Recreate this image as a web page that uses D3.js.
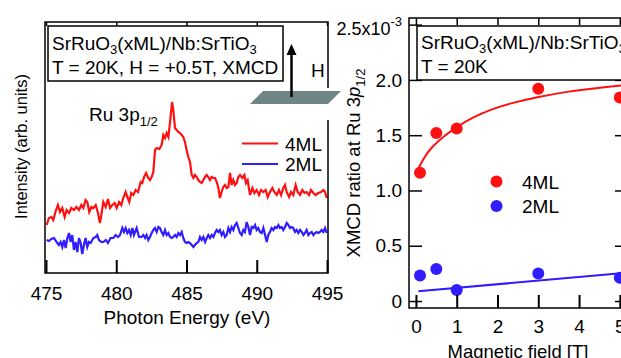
<!DOCTYPE html>
<html>
<head>
<meta charset="utf-8">
<script src="https://cdn.jsdelivr.net/npm/d3@7"></script>
<style>
  body { margin: 0; background: #fff; }
  svg { font-family: "Liberation Sans", Arial, Helvetica, sans-serif; }
</style>
</head>
<body>
<svg id="chart" width="621" height="358"></svg>
<script>
// left panel: XMCD spectra, [photon energy (eV), intensity (arb. units)]
const spec4ML = [[475.05,48],[475.21,55],[475.38,56],[475.52,53],[475.69,62],[475.85,68],[476.0,61],[476.16,65],[476.33,56],[476.47,63],[476.64,60],[476.8,65],[476.99,63],[477.16,66],[477.35,63],[477.51,68],[477.66,65],[477.82,73],[477.94,71],[478.08,61],[478.23,66],[478.37,65],[478.54,68],[478.7,60],[478.84,50],[478.94,58],[479.08,71],[479.25,66],[479.41,74],[479.56,65],[479.72,68],[479.89,70],[480.03,65],[480.2,71],[480.36,68],[480.5,75],[480.67,81],[480.79,76],[480.93,71],[481.07,80],[481.22,78],[481.38,83],[481.55,81],[481.74,91],[481.85,90],[481.98,96],[482.12,100],[482.28,95],[482.4,93],[482.52,96],[482.64,101],[482.76,123],[482.88,125],[483.07,124],[483.23,128],[483.35,138],[483.47,135],[483.59,140],[483.71,136],[483.83,151],[483.97,171],[484.06,163],[484.18,145],[484.3,143],[484.42,141],[484.54,140],[484.66,138],[484.77,136],[484.89,131],[485.01,123],[485.13,116],[485.25,111],[485.37,98],[485.49,95],[485.6,98],[485.72,96],[485.84,93],[485.96,91],[486.08,90],[486.2,93],[486.32,96],[486.44,98],[486.55,96],[486.67,93],[486.79,96],[486.91,95],[487.03,95],[487.15,91],[487.27,85],[487.38,75],[487.5,81],[487.62,86],[487.74,88],[487.86,85],[487.98,86],[488.1,100],[488.21,88],[488.33,93],[488.45,88],[488.57,90],[488.69,96],[488.81,98],[488.97,95],[489.12,98],[489.23,90],[489.35,93],[489.52,78],[489.69,85],[489.83,80],[489.99,83],[490.16,78],[490.3,83],[490.47,81],[490.63,83],[490.78,76],[490.94,81],[491.11,85],[491.25,81],[491.42,78],[491.58,83],[491.73,78],[491.89,85],[492.01,88],[492.13,81],[492.3,76],[492.44,81],[492.6,78],[492.77,88],[492.91,81],[493.08,78],[493.24,83],[493.39,80],[493.55,81],[493.72,78],[493.86,83],[494.03,80],[494.19,78],[494.38,80],[494.57,81],[494.74,83],[494.86,81],[494.98,75]];
const spec2ML = [[475.05,33],[475.21,32],[475.38,34],[475.57,35],[475.76,31],[475.92,28],[476.04,31],[476.16,26],[476.28,33],[476.4,25],[476.52,35],[476.64,40],[476.75,31],[476.87,38],[476.99,23],[477.11,31],[477.23,21],[477.35,35],[477.47,30],[477.58,19],[477.7,28],[477.82,35],[477.94,26],[478.06,31],[478.18,30],[478.37,35],[478.54,36],[478.65,38],[478.77,33],[478.94,31],[479.08,31],[479.25,33],[479.41,30],[479.6,35],[479.79,35],[479.96,38],[480.12,36],[480.27,38],[480.43,45],[480.55,41],[480.67,45],[480.79,40],[480.91,43],[481.03,38],[481.15,45],[481.26,38],[481.45,45],[481.62,36],[481.79,36],[481.93,38],[482.05,35],[482.16,38],[482.28,33],[482.4,36],[482.52,40],[482.64,43],[482.76,45],[482.88,41],[483.0,46],[483.11,45],[483.23,41],[483.35,38],[483.47,43],[483.59,38],[483.71,40],[483.83,36],[483.95,35],[484.06,36],[484.18,38],[484.3,36],[484.42,40],[484.54,38],[484.66,41],[484.77,35],[484.89,31],[485.01,30],[485.13,31],[485.25,30],[485.37,28],[485.49,26],[485.6,28],[485.72,30],[485.84,31],[485.96,36],[486.08,33],[486.2,36],[486.32,31],[486.44,35],[486.55,38],[486.67,35],[486.79,38],[486.91,36],[487.03,40],[487.15,43],[487.27,41],[487.38,43],[487.5,38],[487.62,41],[487.74,36],[487.86,38],[487.98,45],[488.1,41],[488.21,46],[488.33,43],[488.45,48],[488.57,50],[488.69,45],[488.81,40],[488.93,38],[489.04,43],[489.16,41],[489.28,51],[489.4,46],[489.52,38],[489.64,46],[489.76,45],[489.88,48],[489.99,43],[490.11,45],[490.23,41],[490.35,40],[490.47,45],[490.59,38],[490.71,31],[490.82,38],[490.94,41],[491.06,45],[491.18,43],[491.3,46],[491.42,45],[491.54,48],[491.65,45],[491.77,46],[491.89,43],[492.01,46],[492.13,50],[492.25,48],[492.37,45],[492.49,46],[492.6,45],[492.72,41],[492.84,43],[492.96,40],[493.08,43],[493.2,41],[493.32,38],[493.43,40],[493.55,43],[493.67,38],[493.79,40],[493.91,41],[494.03,38],[494.15,40],[494.26,41],[494.38,40],[494.5,41],[494.62,43],[494.74,41],[494.86,45],[494.98,40]];
const energyTicks = [475, 480, 485, 490, 495];

// right panel: XMCD ratio vs field
const fieldT = [0.1, 0.5, 1, 3, 5];
const ratio4ML = [1.16, 1.52, 1.56, 1.92, 1.84];
const ratio2ML = [0.23, 0.29, 0.10, 0.25, 0.21];
const fit4ML = [[0.06,1.20],[0.22,1.31],[0.38,1.39],[0.71,1.50],[1.03,1.58],[1.36,1.655],[1.85,1.735],[2.33,1.79],[2.98,1.845],[3.8,1.90],[4.28,1.92],[4.93,1.946],[5.1,1.952]];
const fit2ML = [[0.06,0.088],[5.1,0.254]];
const fieldTicks = [0, 1, 2, 3, 4, 5];
const ratioTicks = [0, 0.5, 1, 1.5, 2, 2.5];

const RED = '#ff1010', BLUE = '#2f1cff';
const FS = 19;
const svg = d3.select('#chart');

// ---------- left panel ----------
const L = { left: 45, right: 328, top: 22, bottom: 273 };
const xE = d3.scaleLinear().domain([474.93, 495.07]).range([L.left, L.right]);
const yI = d3.scaleLinear().domain([0, 251]).range([L.bottom, L.top]);

const line = d3.line().x(d => xE(d[0])).y(d => yI(d[1]));
svg.append('path').datum(spec2ML).attr('d', line)
  .attr('fill', 'none').attr('stroke', BLUE).attr('stroke-width', 2.2);
svg.append('path').datum(spec4ML).attr('d', line)
  .attr('fill', 'none').attr('stroke', RED).attr('stroke-width', 2.2);

svg.append('rect').attr('x', L.left).attr('y', L.top)
  .attr('width', L.right - L.left).attr('height', L.bottom - L.top)
  .attr('fill', 'none').attr('stroke', '#000').attr('stroke-width', 1.5);

const axE = svg.append('g').attr('transform', `translate(0,${L.bottom})`)
  .call(d3.axisBottom(xE).tickValues(energyTicks).tickSizeInner(-13).tickSizeOuter(0).tickPadding(13.5));
axE.select('.domain').remove();
axE.selectAll('line').attr('stroke-width', 2);
axE.selectAll('text').attr('font-size', FS).attr('font-family', null).attr('fill', '#000');

svg.append('g').attr('transform', `translate(0,${L.top})`)
  .call(d3.axisTop(xE).tickValues(energyTicks).tickSizeInner(-4).tickSizeOuter(0).tickFormat(''))
  .call(g => g.select('.domain').remove())
  .selectAll('line').attr('stroke-width', 1.5);

svg.append('text').attr('x', (L.left + L.right) / 2 + 0.5).attr('y', 324)
  .attr('text-anchor', 'middle').attr('font-size', FS).text('Photon Energy (eV)');
svg.append('text').attr('transform', 'translate(27,146.5) rotate(-90)')
  .attr('text-anchor', 'middle').attr('font-size', 16.5).text('Intensity (arb. units)');

// info box
svg.append('rect').attr('x', 48).attr('y', 26).attr('width', 235).attr('height', 55)
  .attr('fill', '#fff').attr('stroke', '#000').attr('stroke-width', 1.5);
const t1 = svg.append('text').attr('x', 52).attr('y', 50).attr('font-size', FS);
t1.append('tspan').text('SrRuO');
t1.append('tspan').attr('font-size', 13).attr('dy', 4).text('3');
t1.append('tspan').attr('dy', -4).text('(xML)/Nb:SrTiO');
t1.append('tspan').attr('font-size', 13).attr('dy', 4).text('3');
svg.append('text').attr('x', 52).attr('y', 74).attr('font-size', FS).text('T = 20K, H = +0.5T, XMCD');

// field arrow over the sample plane
svg.append('rect').attr('x', 324).attr('y', 88).attr('width', 10).attr('height', 32).attr('fill', '#fff');
svg.append('polygon').attr('points', '250,104 263,91 341,91 328,104').attr('fill', '#6f8585');
svg.append('line').attr('x1', 291.5).attr('y1', 97).attr('x2', 291.5).attr('y2', 54)
  .attr('stroke', '#000').attr('stroke-width', 2.5);
svg.append('polygon').attr('points', '291.5,44 286.5,55 296.5,55').attr('fill', '#000');
svg.append('text').attr('x', 311).attr('y', 77).attr('font-size', FS).text('H');

// peak label
const pk = svg.append('text').attr('x', 89).attr('y', 121).attr('font-size', FS);
pk.append('tspan').text('Ru 3p');
pk.append('tspan').attr('font-size', 13).attr('dy', 5).text('1/2');

// legend
[[RED, '4ML', 143.5], [BLUE, '2ML', 164]].forEach(([c, lab, y]) => {
  svg.append('line').attr('x1', 242).attr('x2', 278).attr('y1', y).attr('y2', y)
    .attr('stroke', c).attr('stroke-width', 2);
  svg.append('text').attr('x', 285).attr('y', y + 7).attr('font-size', FS).text(lab);
});

// ---------- right panel ----------
const R = { left: 409, right: 628, top: 18, bottom: 308 };
const xB = d3.scaleLinear().domain([-0.17, 5.2]).range([R.left, R.right]);
const yR = d3.scaleLinear().domain([-0.063, 2.56]).range([R.bottom, R.top]);

svg.append('path').datum(fit2ML).attr('d', d3.line().x(d => xB(d[0])).y(d => yR(d[1])))
  .attr('fill', 'none').attr('stroke', BLUE).attr('stroke-width', 2);
svg.append('path').datum(fit4ML)
  .attr('d', d3.line().curve(d3.curveBasis).x(d => xB(d[0])).y(d => yR(d[1])))
  .attr('fill', 'none').attr('stroke', RED).attr('stroke-width', 2);

svg.append('g').selectAll('circle').data(fieldT).join('circle')
  .attr('cx', d => xB(d)).attr('cy', (d, i) => yR(ratio4ML[i])).attr('r', 6).attr('fill', RED);
svg.append('g').selectAll('circle').data(fieldT).join('circle')
  .attr('cx', d => xB(d)).attr('cy', (d, i) => yR(ratio2ML[i])).attr('r', 6).attr('fill', BLUE);

svg.append('rect').attr('x', R.left).attr('y', R.top)
  .attr('width', R.right - R.left).attr('height', R.bottom - R.top)
  .attr('fill', 'none').attr('stroke', '#000').attr('stroke-width', 1.5);

const axB = svg.append('g').attr('transform', `translate(0,${R.bottom})`)
  .call(d3.axisBottom(xB).tickValues(fieldTicks).tickSizeInner(-13).tickSizeOuter(0).tickPadding(11.5)
    .tickFormat(d3.format('d')));
axB.select('.domain').remove();
axB.selectAll('line').attr('stroke-width', 2);
axB.selectAll('text').attr('font-size', FS).attr('font-family', null).attr('fill', '#000');

svg.append('g').attr('transform', `translate(0,${R.top})`)
  .call(d3.axisTop(xB).tickValues(fieldTicks).tickSizeInner(-7).tickSizeOuter(0).tickFormat(''))
  .call(g => g.select('.domain').remove())
  .selectAll('line').attr('stroke-width', 1.5);

const axR = svg.append('g').attr('transform', `translate(${R.left},0)`)
  .call(d3.axisLeft(yR).tickValues(ratioTicks).tickSizeInner(-13).tickSizeOuter(0).tickPadding(7)
    .tickFormat(d => d === 0 ? '0' : d3.format('.1f')(d)));
axR.select('.domain').remove();
axR.selectAll('line').attr('stroke-width', 1.5);
axR.selectAll('text').attr('font-size', FS).attr('font-family', null).attr('fill', '#000');
// top label carries the exponent
axR.selectAll('.tick').filter(d => d === 2.5).select('text').each(function () {
  const t = d3.select(this).text('').attr('dy', '0.55em').attr('font-size', 18);
  t.append('tspan').text('2.5x10');
  t.append('tspan').attr('font-size', 13).attr('dy', -9).text('-3');
});

svg.append('g').attr('transform', `translate(${R.right},0)`)
  .call(d3.axisRight(yR).tickValues(ratioTicks.slice(0, 5)).tickSizeInner(-13).tickSizeOuter(0).tickFormat(''))
  .call(g => g.select('.domain').remove())
  .selectAll('line').attr('stroke-width', 1.5);

svg.append('text').attr('x', 518).attr('y', 357.5).attr('text-anchor', 'middle')
  .attr('font-size', 18.5).text('Magnetic field [T]');

const yl = svg.append('text').attr('transform', 'translate(360,163) rotate(-90)')
  .attr('text-anchor', 'middle').attr('font-size', 18.5);
yl.append('tspan').text('XMCD ratio at  Ru 3');
yl.append('tspan').attr('font-style', 'italic').text('p');
yl.append('tspan').attr('font-size', 13).attr('dy', 5).text('1/2');

// info box
svg.append('rect').attr('x', 417).attr('y', 26).attr('width', 230).attr('height', 54)
  .attr('fill', '#fff').attr('stroke', '#000').attr('stroke-width', 1.5);
const t2 = svg.append('text').attr('x', 421).attr('y', 49).attr('font-size', FS);
t2.append('tspan').text('SrRuO');
t2.append('tspan').attr('font-size', 13).attr('dy', 4).text('3');
t2.append('tspan').attr('dy', -4).text('(xML)/Nb:SrTiO');
t2.append('tspan').attr('font-size', 13).attr('dy', 4).text('3');
svg.append('text').attr('x', 421).attr('y', 73).attr('font-size', FS).text('T = 20K');

// legend
[[RED, '4ML', 181.5], [BLUE, '2ML', 206]].forEach(([c, lab, y]) => {
  svg.append('circle').attr('cx', 496.5).attr('cy', y).attr('r', 6).attr('fill', c);
  svg.append('text').attr('x', 522).attr('y', y + 7).attr('font-size', FS).text(lab);
});
</script>
</body>
</html>
